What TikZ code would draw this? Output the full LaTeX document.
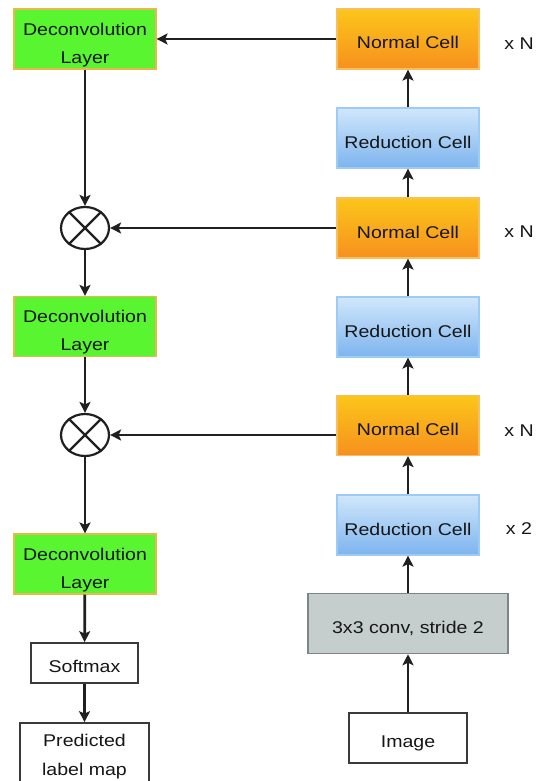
\documentclass[tikz,border=0pt]{standalone}
\usepackage{fontspec}
\setmainfont{Liberation Sans}[FakeStretch=1.15]
\usetikzlibrary{arrows.meta,shapes.geometric}
\definecolor{greenfill}{RGB}{88,245,48}
\definecolor{greenborder}{RGB}{232,184,74}
\definecolor{orangetop}{RGB}{251,198,26}
\definecolor{orangebot}{RGB}{247,144,30}
\definecolor{orangeborder}{RGB}{246,192,96}
\definecolor{bluetop}{RGB}{208,231,251}
\definecolor{bluebot}{RGB}{125,180,238}
\definecolor{blueborder}{RGB}{156,203,245}
\definecolor{grayfill}{RGB}{197,205,205}
\definecolor{grayborder}{RGB}{127,133,133}
\definecolor{wborder}{RGB}{58,58,58}
\definecolor{txt}{RGB}{22,22,22}
\definecolor{arrcol}{RGB}{32,32,32}
\tikzset{
  onebox/.style={rectangle, minimum width=142pt, minimum height=60pt, inner sep=0pt,
    line width=1.2pt, font=\fontsize{17}{28}\selectfont, text=txt,
    text height=20pt, text depth=0pt},
  deconvbox/.style={rectangle, minimum width=142pt, minimum height=60pt, inner sep=0pt,
    line width=1.2pt, font=\fontsize{17}{28}\selectfont, text=txt, align=center,
    fill=greenfill, draw=greenborder},
  normalbox/.style={onebox, top color=orangetop, bottom color=orangebot, draw=orangeborder},
  redbox/.style={onebox, top color=bluetop, bottom color=bluebot, draw=blueborder},
  convbox/.style={onebox, minimum width=200pt, fill=grayfill, draw=grayborder, line width=1.5pt},
  whitebox/.style={onebox, fill=white, draw=wborder, line width=1.7pt, text height=18.5pt},
  predbox/.style={rectangle, minimum width=129pt, minimum height=60pt, inner sep=0pt,
    line width=1.7pt, font=\fontsize{17}{29}\selectfont, text=txt, align=center,
    fill=white, draw=wborder},
  mulnode/.style={ellipse, minimum width=48pt, minimum height=42pt, inner sep=0pt,
    draw=arrcol, line width=2.2pt},
  lbl/.style={font=\fontsize{17}{20}\selectfont, text=txt, inner sep=0pt,
    text height=12.2pt, text depth=0pt},
  arr/.style={draw=arrcol, line width=2.7pt, -{Stealth[length=11pt,width=11pt,inset=2.5pt]}}
}
\begin{document}
\begin{tikzpicture}[x=1pt,y=-1pt]
\clip (0,0) rectangle (542,781);
\fill[white] (0,0) rectangle (542,781);
% right column
\node[normalbox] (n1) at (408,39) {Normal Cell};
\node[redbox] (r1) at (408,138) {Reduction Cell};
\node[normalbox] (n2) at (408,228) {Normal Cell};
\node[redbox] (r2) at (408,327) {Reduction Cell};
\node[normalbox] (n3) at (408,425.5) {Normal Cell};
\node[redbox] (r3) at (408,525) {Reduction Cell};
\node[convbox] (cv) at (408,623.5) {3x3 conv, stride 2};
\node[whitebox, minimum width=118pt, minimum height=50pt] (img) at (408,738) {Image};
% labels
\node[lbl] (l1) at (519,43) {x N};
\node[lbl] (l2) at (519,231) {x N};
\node[lbl] (l3) at (519,430) {x N};
\node[lbl] (l4) at (519,528) {x 2};
% left column
\node[deconvbox] (d1) at (85,39) {\rule{0pt}{23.6pt}Deconvolution\\Layer};
\node[mulnode] (c1) at (85,228) {};
\node[deconvbox] (d2) at (85,326.5) {\rule{0pt}{23.6pt}Deconvolution\\Layer};
\node[mulnode] (c2) at (85,435) {};
\node[deconvbox] (d3) at (85,564) {\rule{0pt}{23.6pt}Deconvolution\\Layer};
\node[whitebox, minimum width=107pt, minimum height=40pt] (sm) at (84.5,663) {Softmax};
\node[predbox] (pr) at (84.5,753) {\rule{0pt}{18.6pt}Predicted\\label map};
% crosses
\draw[arrcol, line width=2.2pt] (c1.45) -- (c1.225) (c1.135) -- (c1.315);
\draw[arrcol, line width=2.2pt] (c2.45) -- (c2.225) (c2.135) -- (c2.315);
% right arrows
\draw[arr] (img) -- (cv);
\draw[arr] (cv) -- (r3);
\draw[arr] (r3) -- (n3);
\draw[arr] (n3) -- (r2);
\draw[arr] (r2) -- (n2);
\draw[arr] (n2) -- (r1);
\draw[arr] (r1) -- (n1);
% horizontal arrows
\draw[arr] (n1.west) -- (d1.east);
\draw[arr] (n2.west) -- (c1.east);
\draw[arr] (n3.west |- c2.east) -- (c2.east);
% left arrows
\draw[arr] (d1) -- (c1);
\draw[arr] (c1) -- (d2);
\draw[arr] (d2) -- (c2);
\draw[arr] (c2) -- (d3);
\draw[arr] (d3) -- (sm);
\draw[arr] (sm) -- (pr);
\end{tikzpicture}
\end{document}
